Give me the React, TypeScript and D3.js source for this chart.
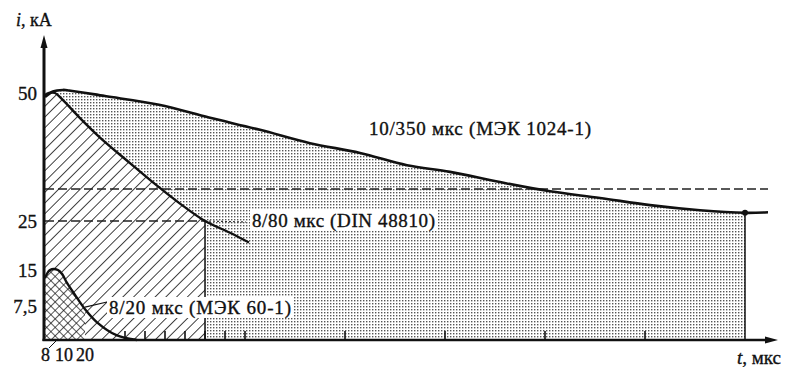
import React from "react";
import * as d3 from "d3";

// time (µs), current (kA)
const wave1035: [number, number][] = [
  [0, 49.2], [4, 50.3], [9, 50.6], [12, 50.5], [30, 49.4], [57, 47.7], [82, 45.2],
  [115, 42.8], [165, 40.2], [215, 38.3], [262, 35.9], [305, 34.6], [355, 32.6],
  [405, 30.8], [455, 29.5], [505, 28.1], [555, 27.1], [600, 26.6], [623, 26.7],
];
const wave880: [number, number][] = [
  [0, 49.6], [2, 50], [5, 50], [8.5, 48.8], [17.5, 45.1], [27.5, 41.3], [42.5, 36.3],
  [56, 31.9], [67.5, 28.4], [80, 25], [92.5, 22.6], [104, 20.6],
];
const wave820: [number, number][] = [
  [0, 13.3], [2.5, 15], [6.5, 15], [8.5, 14.2], [11, 12.3], [15, 9.8], [20, 6.8],
  [26, 3.9], [36, 1.0], [46, 0],
];
const yTicks = [
  { v: 50, label: "50" },
  { v: 25, label: "25" },
  { v: 15, label: "15" },
  { v: 7.5, label: "7,5" },
];
const xSmallTicks = [40, 50, 60, 70, 80, 90, 100, 200, 300, 400, 500];
const xLabels = [
  { v: 8, label: "8" },
  { v: 10, label: "10" },
  { v: 20, label: "20" },
];
const refLevel = 31.25;
const halfLevel = 25;
const end1035 = 600;
const end880 = 80;
const end820 = 20;

export default function App() {
  const x = d3.scaleLinear().domain([0, 100, 600]).range([45, 245, 745]);
  const y = d3.scaleLinear().domain([0, 7.5, 15, 25, 50]).range([340, 306, 270, 221, 93]);
  const x0 = x(0);
  const yBase = y(0);

  const line = d3
    .line<[number, number]>()
    .x((d) => x(d[0]))
    .y((d) => y(d[1]))
    .curve(d3.curveCatmullRom.alpha(0.5));
  const area = d3
    .area<[number, number]>()
    .x((d) => x(d[0]))
    .y0(yBase)
    .y1((d) => y(d[1]))
    .curve(d3.curveCatmullRom.alpha(0.5));

  const font = "'Liberation Serif', 'Times New Roman', serif";
  const fs = 19;
  const xEndArrow = 778;
  const yTopArrow = 35;
  const ink = { fill: "#111", stroke: "#111", strokeWidth: 0.35 };
  const xLabelPos = [45.5, 64, 85];

  return (
    <svg width={787} height={371} style={{ position: "absolute", left: 0, top: 0, background: "#fff" }}>
      <defs>
        <pattern id="dots" patternUnits="userSpaceOnUse" width={3} height={3}>
          <rect x={0} y={0} width={1.4} height={1.4} fill="#555" />
        </pattern>
        <pattern id="hatch" patternUnits="userSpaceOnUse" width={7.6} height={7.6} patternTransform="rotate(45)">
          <line x1={0} y1={0} x2={0} y2={7.6} stroke="#111" strokeWidth={1.6} />
        </pattern>
        <pattern id="cross" patternUnits="userSpaceOnUse" width={6} height={6} patternTransform="rotate(45)">
          <line x1={0} y1={0} x2={0} y2={6} stroke="#111" strokeWidth={1.4} />
          <line x1={0} y1={0} x2={6} y2={0} stroke="#111" strokeWidth={1.4} />
        </pattern>
        <clipPath id="c1035">
          <rect x={x0} y={0} width={x(end1035) - x0} height={yBase} />
        </clipPath>
        <clipPath id="c880">
          <rect x={x0} y={0} width={x(end880) - x0} height={yBase} />
        </clipPath>
        <clipPath id="c820">
          <rect x={x0} y={0} width={x(end820) - x0} height={yBase} />
        </clipPath>
      </defs>

      {/* filled regions */}
      <path d={area(wave1035) || ""} fill="url(#dots)" clipPath="url(#c1035)" />
      <g clipPath="url(#c880)">
        <path d={area(wave880) || ""} fill="#fff" />
        <path d={area(wave880) || ""} fill="url(#hatch)" />
      </g>
      <g clipPath="url(#c820)">
        <path d={area(wave820) || ""} fill="#fff" />
        <path d={area(wave820) || ""} fill="url(#cross)" />
      </g>

      {/* dashed reference lines */}
      <line x1={x0} x2={768} y1={y(refLevel)} y2={y(refLevel)} stroke="#222" strokeWidth={1.3} strokeDasharray="9 4" />
      <line x1={x0} x2={x(end880)} y1={y(halfLevel)} y2={y(halfLevel)} stroke="#222" strokeWidth={1.3} strokeDasharray="9 4" />
      <line x1={x(end880)} x2={246} y1={y(halfLevel)} y2={y(halfLevel) + 1} stroke="#333" strokeWidth={1.2} strokeDasharray="2 2" />

      {/* verticals */}
      <line x1={x(end880)} x2={x(end880)} y1={y(halfLevel)} y2={yBase} stroke="#111" strokeWidth={1.5} />
      <line x1={x(end1035)} x2={x(end1035)} y1={y(26.6)} y2={yBase} stroke="#111" strokeWidth={1.5} />

      {/* curves */}
      <path d={line(wave1035) || ""} fill="none" stroke="#111" strokeWidth={2.6} />
      <path d={line(wave880) || ""} fill="none" stroke="#111" strokeWidth={2.4} />
      <path d={line(wave820) || ""} fill="none" stroke="#111" strokeWidth={2.4} />
      <circle cx={x(end1035)} cy={y(26.6)} r={3} fill="#111" />

      {/* axes */}
      <line x1={x0 - 1} x2={x0 - 1} y1={yBase + 1} y2={yTopArrow + 8} stroke="#111" strokeWidth={3} />
      <path d={`M${x0 - 1},${yTopArrow} L${x0 - 4.5},${yTopArrow + 13} L${x0 + 2.5},${yTopArrow + 13} Z`} fill="#111" />
      <line x1={x0 - 2.5} x2={xEndArrow - 8} y1={yBase} y2={yBase} stroke="#111" strokeWidth={2.6} />
      <path d={`M${xEndArrow},${yBase} L${xEndArrow - 13},${yBase - 3.5} L${xEndArrow - 13},${yBase + 3.5} Z`} fill="#111" />
      {xSmallTicks.map((t) => (
        <line key={t} x1={x(t)} x2={x(t)} y1={yBase} y2={yBase - 9} stroke="#111" strokeWidth={1.6} />
      ))}

      {/* y labels */}
      <text x={16} y={26} fontFamily={font} fontSize={18} {...ink}>
        <tspan fontStyle="italic">i</tspan>, кА
      </text>
      {yTicks.map((t) => (
        <text key={t.label} x={37} y={y(t.v) + 6.5} textAnchor="end" fontFamily={font} fontSize={fs} {...ink}>
          {t.label}
        </text>
      ))}

      {/* x labels */}
      <line x1={49} y1={348} x2={56} y2={341} stroke="#111" strokeWidth={1} />
      {xLabels.map((t, i) => (
        <text key={t.label} x={xLabelPos[i]} y={361} textAnchor="middle" fontFamily={font} fontSize={18} {...ink}>
          {t.label}
        </text>
      ))}
      <text x={737} y={364} fontFamily={font} fontSize={fs} {...ink}>
        <tspan fontStyle="italic">t</tspan>, мкс
      </text>

      {/* curve labels */}
      <text x={369} y={135} fontFamily={font} fontSize={fs} {...ink} textLength={222} lengthAdjust="spacing">
        10/350 мкс (МЭК 1024-1)
      </text>
      <rect x={250} y={210} width={187} height={21} fill="#fff" />
      <text x={252} y={227} fontFamily={font} fontSize={fs} {...ink} textLength={183} lengthAdjust="spacing">
        8/80 мкс (DIN 48810)
      </text>
      <line x1={x(end820)} y1={y(6.8) - 2} x2={107} y2={302} stroke="#111" strokeWidth={1.2} />
      <rect x={107} y={297} width={186} height={21} fill="#fff" />
      <text x={109} y={314} fontFamily={font} fontSize={fs} {...ink} textLength={182} lengthAdjust="spacing">
        8/20 мкс (МЭК 60-1)
      </text>
    </svg>
  );
}
